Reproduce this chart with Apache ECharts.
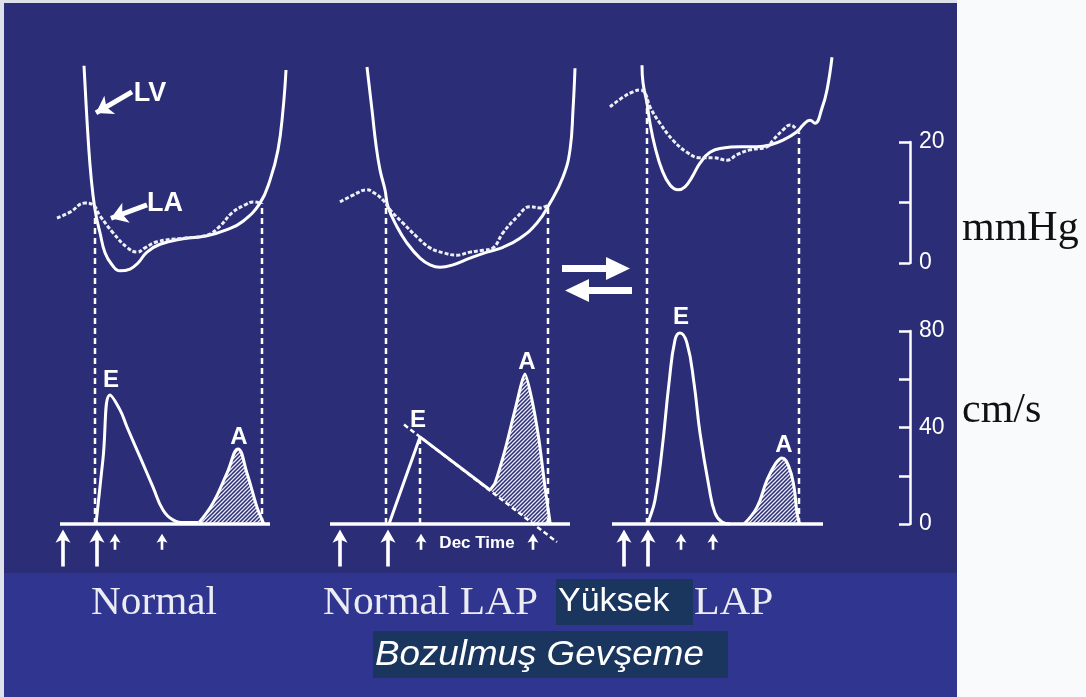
<!DOCTYPE html>
<html><head><meta charset="utf-8">
<script src="https://cdn.jsdelivr.net/npm/echarts@6/dist/echarts.min.js"></script>
<style>html,body{margin:0;padding:0;background:#f8fafc;}#c{width:1086px;height:697px;}</style>
</head><body><div id="c"></div>
<script>
// ---------------- DATA (time in ms, pressure in mmHg, velocity in cm/s) ----------------
const panelNames = ['Normal', 'Normal LAP', 'Yüksek LAP'];
const pressureScaleTicks = [0, 10, 20];
const velocityScaleTicks = [0, 20, 40, 60, 80];

// Panel 1 : Normal
const lvNormal = [[88,32.6],[94,23.6],[100,16.2],[106,11.2],[112,7.9],[120,5.0],[130,1.7],[144,-0.3],[160,-1.3],[180,-1.0],[196,0.0],[214,1.8],[240,3.1],[286,4.0],[334,4.5],[374,5.5],[406,6.9],[440,9.9],[460,13.7],[476,18.7],[486,25.3],[492,31.9]];
const laNormal = [[34,7.4],[60,8.4],[90,9.9],[106,9.6],[120,7.8],[146,5.0],[174,2.6],[194,1.8],[210,2.5],[234,3.5],[286,4.1],[334,4.6],[360,6.1],[384,8.3],[410,9.6],[426,10.1],[440,9.9]];
const eNormal = [[112,0],[126,27.0],[140,53.5],[160,47.3],[174,40.2],[200,27.8],[226,15.3],[246,5.8],[266,1.7],[290,0.6],[316,0.6]];
const aNormal = [[318,0.6],[346,8.7],[374,21.1],[396,31.1],[414,21.1],[434,7.0],[446,0.8],[448,0]];
const valvesNormal = [[110,128],[444,133]];
const baselineNormal = [40,460];
const bigArrowsNormal = [46,114];
const smallArrowsNormal = [150,244];
const peakLabelsNormal = [[142,59.7,'E'],[398,36.1,'A']];
const pressureLabelsNormal = [[220,28.0,'LV'],[250,9.9,'LA']];

// Panel 2 : Normal LAP
const lvNormalLap = [[94,32.4],[104,25.3],[112,19.5],[120,15.4],[130,12.1],[136,9.3],[154,6.0],[174,3.3],[200,0.8],[220,-0.3],[240,-0.7],[266,-0.3],[300,0.8],[334,1.8],[366,2.6],[400,4.1],[434,6.6],[460,9.9],[486,14.2],[500,18.7],[506,25.3],[510,32.2]];
const laNormalLap = [[40,10.1],[66,11.2],[94,12.1],[106,11.7],[126,10.4],[140,8.8],[166,6.6],[194,4.3],[220,2.5],[246,1.7],[274,1.3],[300,1.8],[326,2.1],[346,2.5],[366,5.0],[394,7.6],[420,9.3],[440,9.1],[456,9.6]];
const eNormalLap = [[138,0],[200,36.1],[340,14.1]];
const aNormalLap = [[340,14.1],[350,17.0],[370,30.7],[390,47.3],[410,62.2],[424,51.4],[438,34.8],[450,15.3],[460,0.8],[461,0]];
const decelNormalLap = [[168,41.2],[474,-7.5]];
const decelUnderA = [[340,14.1],[428,0]];
const valvesNormalLap = [[132,132.6],[456,132.2],[200,36.1]];
const baselineNormalLap = [20,500];
const bigArrowsNormalLap = [40,136];
const smallArrowsNormalLap = [202,426];
const peakLabelsNormalLap = [[196,43.1,'E'],[414,67.2,'A']];
const decTimeLabel = [[314,-7.9,'Dec Time']];

// Panel 3 : Yüksek LAP
const lvHighLap = [[94,32.7],[96,29.8],[104,26.4],[110,23.1],[120,19.2],[134,15.4],[150,12.9],[166,12.1],[180,12.6],[194,14.2],[210,16.5],[230,18.3],[256,19.0],[290,19.2],[324,19.2],[350,19.5],[376,20.3],[404,21.7],[416,22.8],[430,23.6],[440,23.1],[454,25.6],[464,28.6],[474,34.0]];
const laHighLap = [[30,25.8],[56,27.4],[76,28.3],[90,28.6],[100,28.1],[110,25.8],[130,23.1],[156,20.3],[184,18.3],[210,17.4],[236,17.4],[264,17.0],[284,17.9],[310,18.7],[344,19.2],[356,20.3],[376,22.0],[390,22.8],[404,22.0],[410,21.2]];
const eHighLap = [[104,0],[108,1.7],[120,9.9],[134,30.7],[148,58.4],[160,76.3],[170,79.2],[184,75.0],[198,58.4],[210,37.7],[228,15.3],[240,4.6],[254,0.8],[270,0]];
const aHighLap = [[298,0],[324,7.0],[344,18.2],[362,25.3],[374,27.4],[388,23.6],[398,15.3],[404,4.6],[408,0.8],[409,0]];
const valvesHighLap = [[104,175.8],[408,162.1]];
const baselineHighLap = [34,456];
const bigArrowsHighLap = [58,106];
const smallArrowsHighLap = [172,236];
const peakLabelsHighLap = [[172,85.8,'E'],[378,32.5,'A']];

// ---------------- LAYOUT / STYLE ----------------
const NAVY = '#2b2d76', BAND = '#30368f', BOX = '#1a365f', WHITE = '#ffffff';
const TOP = 40, HGT = 535;
const P0 = 263, PPX = 6.05, V0 = 524, VPX = 2.4125;
const pMax = (P0 - TOP) / PPX, pMin = pMax - HGT / PPX;
const vMax = (V0 - TOP) / VPX, vMin = vMax - HGT / VPX;
const MS_PER_PX = 2;
const gridsX = [{left:40,width:260},{left:320,width:270},{left:595,width:250}];
const BIG_ARROW_V = -9.9, SMALL_ARROW_V = -7.4;
const bigArrowPath = 'path://M7,0 L14,13 L8.7,10.5 L8.7,36 L5.3,36 L5.3,10.5 L0,13 Z';
const smallArrowPath = 'path://M5,0 L10,9 L6.2,7.5 L6.2,16 L3.8,16 L3.8,7.5 L0,9 Z';

function hatchCanvas(){
  const c = document.createElement('canvas'); c.width = 4; c.height = 4;
  const g = c.getContext('2d');
  g.strokeStyle = 'rgba(232,234,244,1)'; g.lineWidth = 1.3;
  g.beginPath();
  g.moveTo(0,4); g.lineTo(4,0);
  g.moveTo(-1,1); g.lineTo(1,-1);
  g.moveTo(3,5); g.lineTo(5,3);
  g.stroke();
  return c;
}
const hatch = {image: hatchCanvas(), repeat: 'repeat'};

const grids = [], xAxes = [], yAxes = [], series = [];
gridsX.forEach((g, i) => {
  grids.push({left:g.left, width:g.width, top:TOP, height:HGT, containLabel:false});
  xAxes.push({type:'value', gridIndex:i, min:0, max:g.width*MS_PER_PX, show:false});
  yAxes.push({type:'value', gridIndex:i, min:pMin, max:pMax, show:false});
  yAxes.push({type:'value', gridIndex:i, min:vMin, max:vMax, show:false});
});
// scale bars
grids.push({left:910, width:2, top:P0 - 20*PPX, height:20*PPX});
grids.push({left:910, width:2, top:V0 - 80*VPX, height:80*VPX});
xAxes.push({type:'value', gridIndex:3, min:0, max:1, show:false});
xAxes.push({type:'value', gridIndex:4, min:0, max:1, show:false});
const scaleAxisCommon = {
  type:'value', position:'right', splitLine:{show:false},
  axisLine:{show:true, lineStyle:{color:WHITE, width:2.5}},
  axisTick:{show:true, inside:true, length:11, lineStyle:{color:WHITE, width:2.5}},
  axisLabel:{color:WHITE, fontSize:23, fontFamily:'Liberation Sans', margin:7}
};
yAxes.push(Object.assign({}, scaleAxisCommon, {gridIndex:3, min:pressureScaleTicks[0], max:pressureScaleTicks[2], interval:10,
  axisLabel:Object.assign({}, scaleAxisCommon.axisLabel, {formatter: v => (v === 10 ? '' : String(v))})}));
yAxes.push(Object.assign({}, scaleAxisCommon, {gridIndex:4, min:velocityScaleTicks[0], max:velocityScaleTicks[4], interval:20,
  axisLabel:Object.assign({}, scaleAxisCommon.axisLabel, {formatter: v => (v % 40 === 0 ? String(v) : '')})}));

function lineS(i, useVel, data, opts){
  return Object.assign({type:'line', xAxisIndex:i, yAxisIndex:2*i + (useVel?1:0), data:data,
    showSymbol:false, symbol:'none', clip:false, silent:true, animation:false,
    lineStyle:{color:WHITE, width:3}, z:5}, opts||{});
}
function textScatter(i, yIdx, data, size, z){
  return {type:'scatter', xAxisIndex:i, yAxisIndex:yIdx, silent:true, animation:false, symbolSize:0,
    itemStyle:{opacity:1}, data:data,
    label:{show:true, position:'inside', formatter: q => q.value[2], color:WHITE, fontSize:size, fontWeight:'bold', fontFamily:'Liberation Sans'}, z:z||7};
}

const panels = [
  {lv:lvNormal, la:laNormal, e:eNormal, a:aNormal, valves:valvesNormal, base:baselineNormal, big:bigArrowsNormal, small:smallArrowsNormal, labels:peakLabelsNormal},
  {lv:lvNormalLap, la:laNormalLap, e:eNormalLap, a:aNormalLap, valves:valvesNormalLap, base:baselineNormalLap, big:bigArrowsNormalLap, small:smallArrowsNormalLap, labels:peakLabelsNormalLap},
  {lv:lvHighLap, la:laHighLap, e:eHighLap, a:aHighLap, valves:valvesHighLap, base:baselineHighLap, big:bigArrowsHighLap, small:smallArrowsHighLap, labels:peakLabelsHighLap}
];
const SM = 0.45;

panels.forEach((p, i) => {
  const lvOpts = {smooth:SM, lineStyle:{color:WHITE, width:3}};
  if (i === 0) {
    lvOpts.markLine = {silent:true, animation:false, symbol:['none','arrow'], symbolSize:[16,16],
      label:{show:false}, lineStyle:{color:WHITE, width:5, type:'solid', opacity:1},
      data:[[{coord:[184,28.3]},{coord:[112,24.8]}],[{coord:[214,9.6]},{coord:[142,7.4]}]]};
  }
  series.push(lineS(i, false, p.lv, lvOpts));
  series.push(lineS(i, false, p.la, {smooth:SM, lineStyle:{color:'#eef0f8', width:3, type:[4,2]}}));
  p.valves.forEach(v => series.push(lineS(i, true, [[v[0],0],[v[0],v[1]]], {lineStyle:{color:WHITE, width:2.5, type:[6,4]}, z:4})));
  series.push(lineS(i, true, [[p.base[0],0],[p.base[1],0]], {lineStyle:{color:WHITE, width:3.5}, z:6}));
  const aSm = i === 1 ? 0.2 : SM;
  series.push(lineS(i, true, p.a, {smooth:aSm, lineStyle:{width:0, color:'rgba(0,0,0,0)'}, areaStyle:{color:hatch, opacity:1}, z:2}));
  if (i === 1) {
    series.push(lineS(i, true, decelUnderA, {lineStyle:{width:0, color:'rgba(0,0,0,0)'}, areaStyle:{color:NAVY, opacity:1}, z:3}));
    series.push(lineS(i, true, decelNormalLap, {lineStyle:{color:WHITE, width:2.5, type:[5,3]}, z:5}));
    series.push(lineS(i, true, p.e, {lineStyle:{color:WHITE, width:3}}));
  } else {
    series.push(lineS(i, true, p.e, {smooth:SM, lineStyle:{color:WHITE, width:3}}));
  }
  series.push(lineS(i, true, p.a, {smooth:aSm, lineStyle:{color:WHITE, width:3}}));
  series.push({type:'scatter', xAxisIndex:i, yAxisIndex:2*i+1, silent:true, animation:false, symbol:bigArrowPath, symbolSize:[15,37],
    itemStyle:{color:WHITE, opacity:1}, data:p.big.map(t => [t, BIG_ARROW_V]), z:6});
  series.push({type:'scatter', xAxisIndex:i, yAxisIndex:2*i+1, silent:true, animation:false, symbol:smallArrowPath, symbolSize:[11,16],
    itemStyle:{color:WHITE, opacity:1}, data:p.small.map(t => [t, SMALL_ARROW_V]), z:6});
  series.push(textScatter(i, 2*i+1, p.labels, 24));
});
series.push(textScatter(0, 0, pressureLabelsNormal, 27));
series.push(textScatter(1, 3, decTimeLabel, 17));

const graphic = [
  {type:'rect', z:-10, silent:true, shape:{x:4,y:3,width:953,height:570}, style:{fill:NAVY}},
  {type:'rect', z:-10, silent:true, shape:{x:4,y:573,width:953,height:124}, style:{fill:BAND}},
  {type:'rect', z:-10, silent:true, shape:{x:0,y:0,width:4,height:697}, style:{fill:'#dde1ea'}},
  {type:'rect', z:-10, silent:true, shape:{x:0,y:0,width:957,height:3}, style:{fill:'#dde1ea'}},
  // reversible arrows between panels 2 and 3
  {type:'rect', z:5, silent:true, shape:{x:562,y:265,width:48,height:7}, style:{fill:WHITE}},
  {type:'polygon', z:5, silent:true, shape:{points:[[606,257],[630,268.5],[606,280]]}, style:{fill:WHITE}},
  {type:'rect', z:5, silent:true, shape:{x:586,y:287,width:46,height:7}, style:{fill:WHITE}},
  {type:'polygon', z:5, silent:true, shape:{points:[[589,279],[565,290.5],[589,302]]}, style:{fill:WHITE}},
  // unit labels
  {type:'text', z:5, silent:true, x:962, y:229, style:{text:'mmHg', font:'42px "Liberation Serif"', fill:'#111', align:'left', verticalAlign:'middle'}},
  {type:'text', z:5, silent:true, x:962, y:411, style:{text:'cm/s', font:'42px "Liberation Serif"', fill:'#111', align:'left', verticalAlign:'middle'}},
  // panel captions
  {type:'text', z:5, silent:true, x:154, y:603, scaleX:1.03, style:{text:panelNames[0], font:'40px "Liberation Serif"', fill:'#ececf3', align:'center', verticalAlign:'middle'}},
  {type:'text', z:5, silent:true, x:323, y:603, scaleX:1.035, style:{text:panelNames[1], font:'40px "Liberation Serif"', fill:'#ececf3', align:'left', verticalAlign:'middle'}},
  {type:'rect', z:5, silent:true, shape:{x:556,y:579,width:137,height:46}, style:{fill:BOX}},
  {type:'text', z:6, silent:true, x:558, y:602, style:{text:panelNames[2].split(' ')[0], font:'34px "Liberation Sans"', fill:WHITE, align:'left', verticalAlign:'middle'}},
  {type:'text', z:6, silent:true, x:694, y:603, scaleX:1.05, style:{text:panelNames[2].split(' ')[1], font:'40px "Liberation Serif"', fill:'#ececf3', align:'left', verticalAlign:'middle'}},
  {type:'rect', z:5, silent:true, shape:{x:373,y:631,width:355,height:47}, style:{fill:BOX}},
  {type:'text', z:6, silent:true, x:375, y:655, scaleX:1.05, style:{text:'Bozulmuş Gevşeme', font:'italic 35px "Liberation Sans"', fill:WHITE, align:'left', verticalAlign:'middle'}}
];

const chart = echarts.init(document.getElementById('c'), null, {renderer:'canvas'});
chart.setOption({animation:false, backgroundColor:'#f8fafc', grid:grids, xAxis:xAxes, yAxis:yAxes, series:series, graphic:graphic, tooltip:{show:false}});
</script></body></html>
